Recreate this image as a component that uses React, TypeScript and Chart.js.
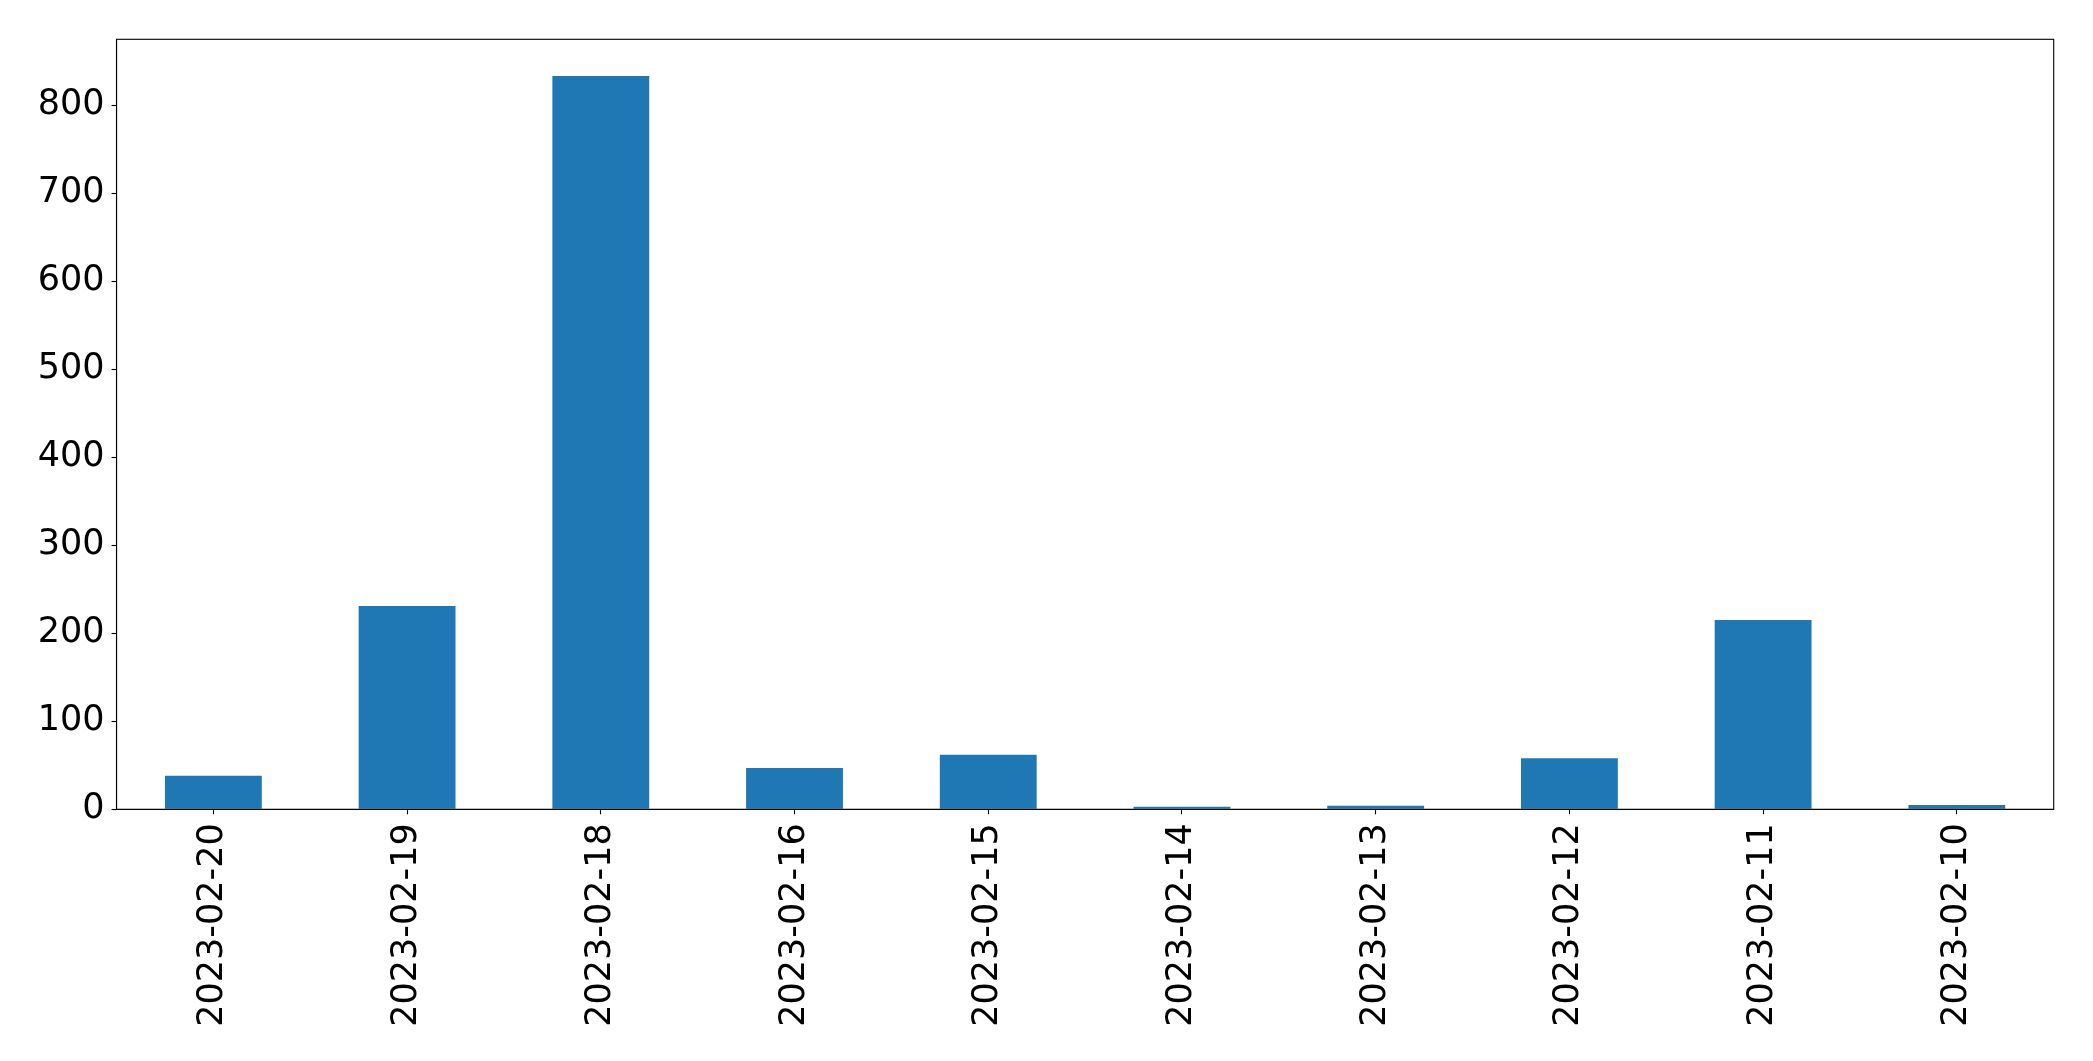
import React, { useEffect, useRef } from "react";
import { Chart, registerables } from "chart.js";

Chart.register(...registerables);

const categories = [
  "2023-02-20",
  "2023-02-19",
  "2023-02-18",
  "2023-02-16",
  "2023-02-15",
  "2023-02-14",
  "2023-02-13",
  "2023-02-12",
  "2023-02-11",
  "2023-02-10",
];
const values = [38, 231, 833, 47, 62, 3, 4, 58, 215, 5];
const yTicks = [0, 100, 200, 300, 400, 500, 600, 700, 800];
const yMax = 874.65;

const W = 2093;
const H = 1061;
const PLOT_LEFT = 116.5;
const PLOT_RIGHT = 2053.7;
const PLOT_TOP = 39.3;
const PLOT_BOTTOM = 809.3;

const FONT = { family: '"DejaVu Sans", sans-serif', size: 35 };

const framePlugin = {
  id: "frame",
  afterDraw(chart: any) {
    const { ctx, chartArea } = chart;
    ctx.save();
    ctx.strokeStyle = "#000";
    ctx.lineWidth = 1.1;
    ctx.strokeRect(
      chartArea.left,
      chartArea.top,
      chartArea.right - chartArea.left,
      chartArea.bottom - chartArea.top
    );
    ctx.restore();
  },
};

export default function App() {
  const ref = useRef<HTMLCanvasElement | null>(null);

  useEffect(() => {
    if (!ref.current) return;
    const chart = new Chart(ref.current, {
      type: "bar",
      data: {
        labels: categories,
        datasets: [
          {
            data: values,
            backgroundColor: "#1f77b4",
            borderWidth: 0,
            barPercentage: 0.5,
            categoryPercentage: 1.0,
          },
        ],
      },
      options: {
        responsive: false,
        animation: false,
        devicePixelRatio: 1,
        layout: {
          padding: {
            left: 0,
            top: PLOT_TOP,
            right: W - PLOT_RIGHT,
            bottom: 0,
          },
        },
        plugins: {
          legend: { display: false },
          tooltip: { enabled: false },
          title: { display: false },
        },
        scales: {
          x: {
            offset: true,
            grid: {
              display: true,
              drawOnChartArea: false,
              drawTicks: true,
              tickLength: 5,
              tickWidth: 1.1,
              tickColor: "#000",
              offset: false,
            },
            border: { display: true, color: "#000", width: 1.1 },
            ticks: {
              color: "#000",
              font: FONT,
              minRotation: 90,
              maxRotation: 90,
              autoSkip: false,
              padding: 9,
            },
            afterFit: (scale: any) => {
              scale.height = H - PLOT_BOTTOM;
            },
          },
          y: {
            min: 0,
            max: yMax,
            bounds: "data",
            grid: {
              display: true,
              drawOnChartArea: false,
              drawTicks: true,
              tickLength: 5,
              tickWidth: 1.1,
              tickColor: "#000",
            },
            border: { display: true, color: "#000", width: 1.1 },
            ticks: {
              color: "#000",
              font: FONT,
              padding: 7,
              includeBounds: false,
            },
            afterBuildTicks: (scale: any) => {
              scale.ticks = yTicks.map((v) => ({ value: v }));
            },
            afterFit: (scale: any) => {
              scale.width = PLOT_LEFT;
            },
          },
        },
      },
      plugins: [framePlugin],
    });
    return () => chart.destroy();
  }, []);

  return (
    <div
      style={{
        position: "fixed",
        left: 0,
        top: 0,
        width: W,
        height: H,
        background: "#fff",
      }}
    >
      <canvas ref={ref} width={W} height={H} style={{ width: W, height: H, display: "block" }} />
    </div>
  );
}
